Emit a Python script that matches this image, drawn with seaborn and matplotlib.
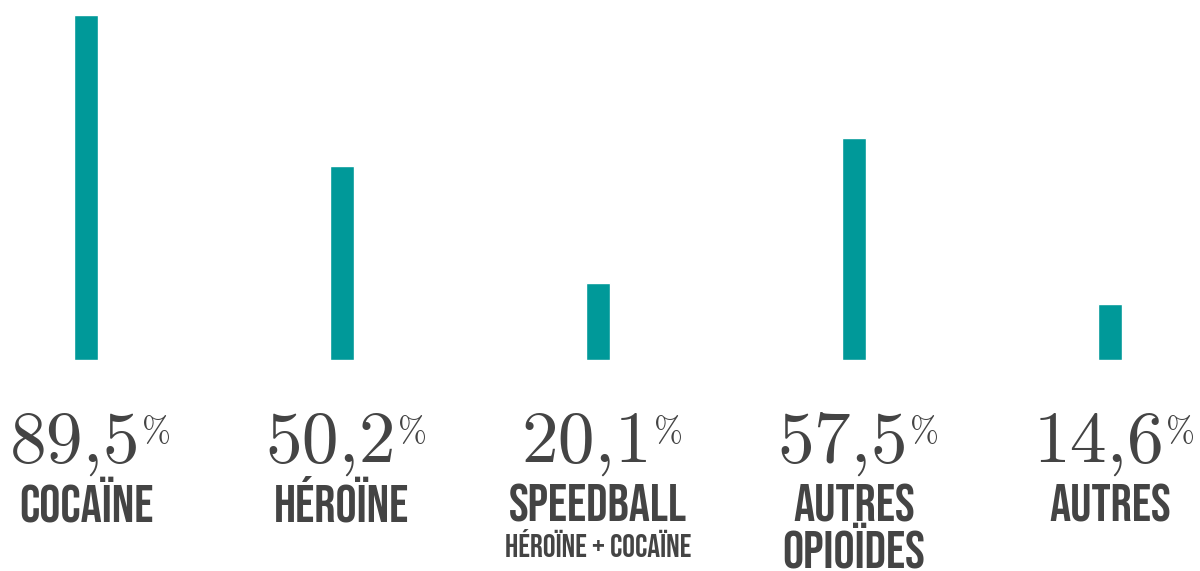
import numpy as np
import pandas as pd
import matplotlib
matplotlib.use("Agg")
import matplotlib.pyplot as plt
import matplotlib.transforms as mtransforms
import seaborn as sns

# data
categories = ["COCAÏNE", "HÉROÏNE", "SPEEDBALL", "AUTRES OPIOÏDES", "AUTRES"]
values = [89.5, 50.2, 20.1, 57.5, 14.6]
value_labels = ["89,5", "50,2", "20,1", "57,5", "14,6"]
name_line1 = ["COCAÏNE", "HÉROÏNE", "SPEEDBALL", "AUTRES", "AUTRES"]
name_line2 = ["", "", "", "OPIOÏDES", ""]
sub_labels = ["", "", "HÉROÏNE + COCAÏNE", "", ""]

teal = "#009999"
grey = "#444444"

sns.set_theme(style="white")
plt.rcParams["font.family"] = ["Bebas Neue", "DejaVu Sans"]

df = pd.DataFrame({"cat": categories, "val": values})

fig = plt.figure(figsize=(12, 5.71), dpi=100)
ax = fig.add_axes([0, 211 / 571, 1, 360 / 571])
sns.barplot(data=df, x="cat", y="val", color=teal, width=0.096,
            saturation=1, ax=ax)
ax.set_xlim(-86 / 256, (1200 - 86) / 256)
ax.set_ylim(0, 89.5 * 360 / 345)
ax.axis("off")

# labels under the bars: x in data, y in figure fraction
trans = mtransforms.blended_transform_factory(ax.transData, fig.transFigure)
shift = mtransforms.ScaledTranslation(-11 / 100, 0, fig.dpi_scale_trans)

def fy(px):
    return 1 - px / 571

for i in range(len(categories)):
    num = ax.text(i, fy(462), value_labels[i], transform=trans + shift,
                  ha="center", va="baseline", fontsize=53, family="cmr10",
                  color=grey)
    ax.annotate("%", xy=(1, 1), xycoords=num, xytext=(1, -4),
                textcoords="offset points", ha="left", va="top",
                fontsize=25, family="cmr10", color=grey)
    ax.text(i, fy(522), name_line1[i], transform=trans, ha="center",
            va="baseline", fontsize=38, color=grey)
    if name_line2[i]:
        ax.text(i, fy(568), name_line2[i], transform=trans, ha="center",
                va="baseline", fontsize=38, color=grey)
    if sub_labels[i]:
        ax.text(i, fy(557), sub_labels[i], transform=trans, ha="center",
                va="baseline", fontsize=23, color=grey)

fig.savefig("out.png", dpi=100)
